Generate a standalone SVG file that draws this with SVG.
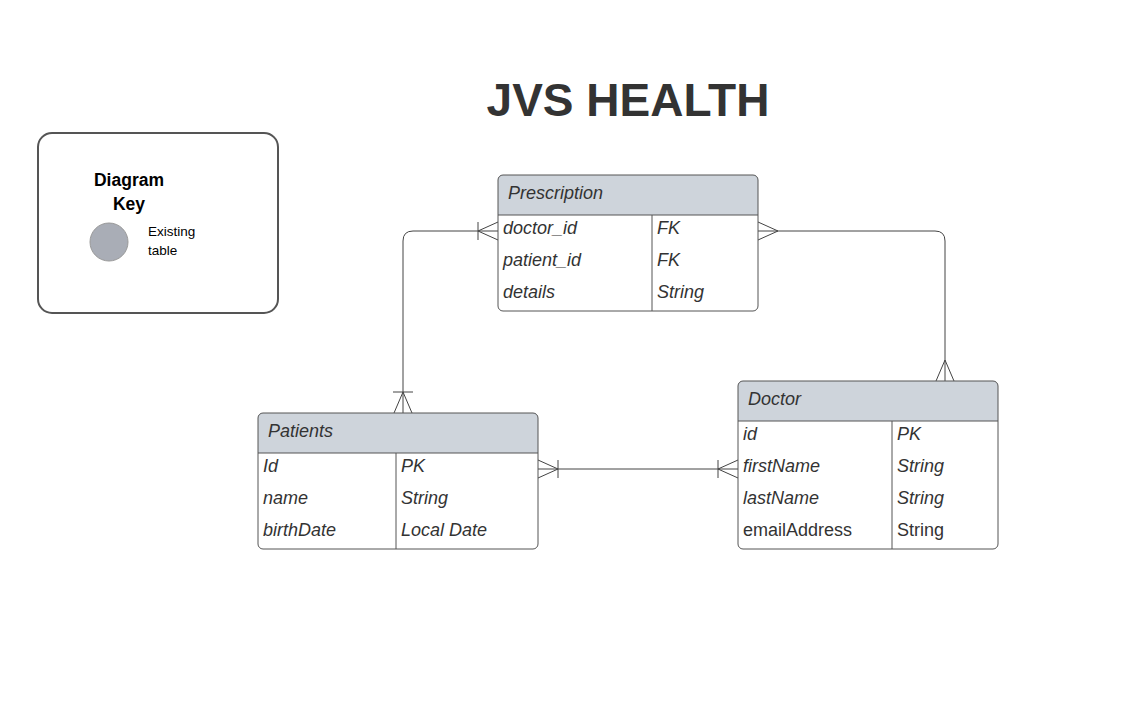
<svg xmlns="http://www.w3.org/2000/svg" width="1133" height="728" viewBox="0 0 1133 728">
<style>
.box{fill:#fff;stroke:#555;stroke-width:1}
.hdr{fill:#ced4db}
.sep{stroke:#555;stroke-width:1;fill:none}
.t{font-family:"Liberation Sans",Arial,sans-serif;font-size:18px;fill:#333}
.i{font-style:italic}
.ln{fill:none;stroke:#444;stroke-width:1}
</style>
<rect width="1133" height="728" fill="#fff"/>
<text x="628" y="116" text-anchor="middle" style="font-family:'Liberation Sans',Arial,sans-serif;font-size:46px;font-weight:bold;fill:#333">JVS HEALTH</text>

<g id="key">
<rect x="38" y="133" width="240" height="180" rx="14" fill="#fff" stroke="#555" stroke-width="2"/>
<text x="129" y="186" text-anchor="middle" style="font-family:'Liberation Sans',Arial,sans-serif;font-size:17.5px;font-weight:bold;fill:#000">Diagram</text>
<text x="129" y="210" text-anchor="middle" style="font-family:'Liberation Sans',Arial,sans-serif;font-size:17.5px;font-weight:bold;fill:#000">Key</text>
<circle cx="109" cy="242" r="19" fill="#a9adb6" stroke="#999" stroke-width="1"/>
<text x="148" y="236" style="font-family:'Liberation Sans',Arial,sans-serif;font-size:13.5px;fill:#000">Existing</text>
<text x="148" y="255" style="font-family:'Liberation Sans',Arial,sans-serif;font-size:13.5px;fill:#000">table</text>
</g>

<g id="connectors">
<path class="ln" d="M498,231 H413 Q403,231 403,241 V413"/>
<path class="ln" d="M498,222 L478,231 L498,240 M478,222 V240"/>
<path class="ln" d="M394,413 L403,392 L412,413 M393,392 H413"/>
<path class="ln" d="M758,231 H935 Q945,231 945,241 V381"/>
<path class="ln" d="M758,222 L778,231 L758,240"/>
<path class="ln" d="M936,381 L945,360 L954,381"/>
<path class="ln" d="M538,469 H738"/>
<path class="ln" d="M538,460 L558,469 L538,478 M558,460 V478"/>
<path class="ln" d="M738,460 L718,469 L738,478 M718,460 V478"/>
</g>

<g id="prescription">
<path class="hdr" d="M503,175 H753 Q758,175 758,180 V215 H498 V180 Q498,175 503,175 Z"/>
<rect class="box" x="498" y="175" width="260" height="136" rx="5" style="fill:none"/>
<path class="sep" d="M498,215 H758 M652,215 V311"/>
<text class="t i" x="508" y="199">Prescription</text>
<text class="t i" x="503" y="234">doctor_id</text>
<text class="t i" x="657" y="234">FK</text>
<text class="t i" x="503" y="266">patient_id</text>
<text class="t i" x="657" y="266">FK</text>
<text class="t i" x="503" y="298">details</text>
<text class="t i" x="657" y="298">String</text>
</g>

<g id="patients">
<path class="hdr" d="M263,413 H533 Q538,413 538,418 V453 H258 V418 Q258,413 263,413 Z"/>
<rect class="box" x="258" y="413" width="280" height="136" rx="5" style="fill:none"/>
<path class="sep" d="M258,453 H538 M396,453 V549"/>
<text class="t i" x="268" y="437">Patients</text>
<text class="t i" x="263" y="472">Id</text>
<text class="t i" x="401" y="472">PK</text>
<text class="t i" x="263" y="504">name</text>
<text class="t i" x="401" y="504">String</text>
<text class="t i" x="263" y="536">birthDate</text>
<text class="t i" x="401" y="536">Local Date</text>
</g>

<g id="doctor">
<path class="hdr" d="M743,381 H993 Q998,381 998,386 V421 H738 V386 Q738,381 743,381 Z"/>
<rect class="box" x="738" y="381" width="260" height="168" rx="5" style="fill:none"/>
<path class="sep" d="M738,421 H998 M892,421 V549"/>
<text class="t i" x="748" y="405">Doctor</text>
<text class="t i" x="743" y="440">id</text>
<text class="t i" x="897" y="440">PK</text>
<text class="t i" x="743" y="472">firstName</text>
<text class="t i" x="897" y="472">String</text>
<text class="t i" x="743" y="504">lastName</text>
<text class="t i" x="897" y="504">String</text>
<text class="t" x="743" y="536">emailAddress</text>
<text class="t" x="897" y="536">String</text>
</g>
</svg>
